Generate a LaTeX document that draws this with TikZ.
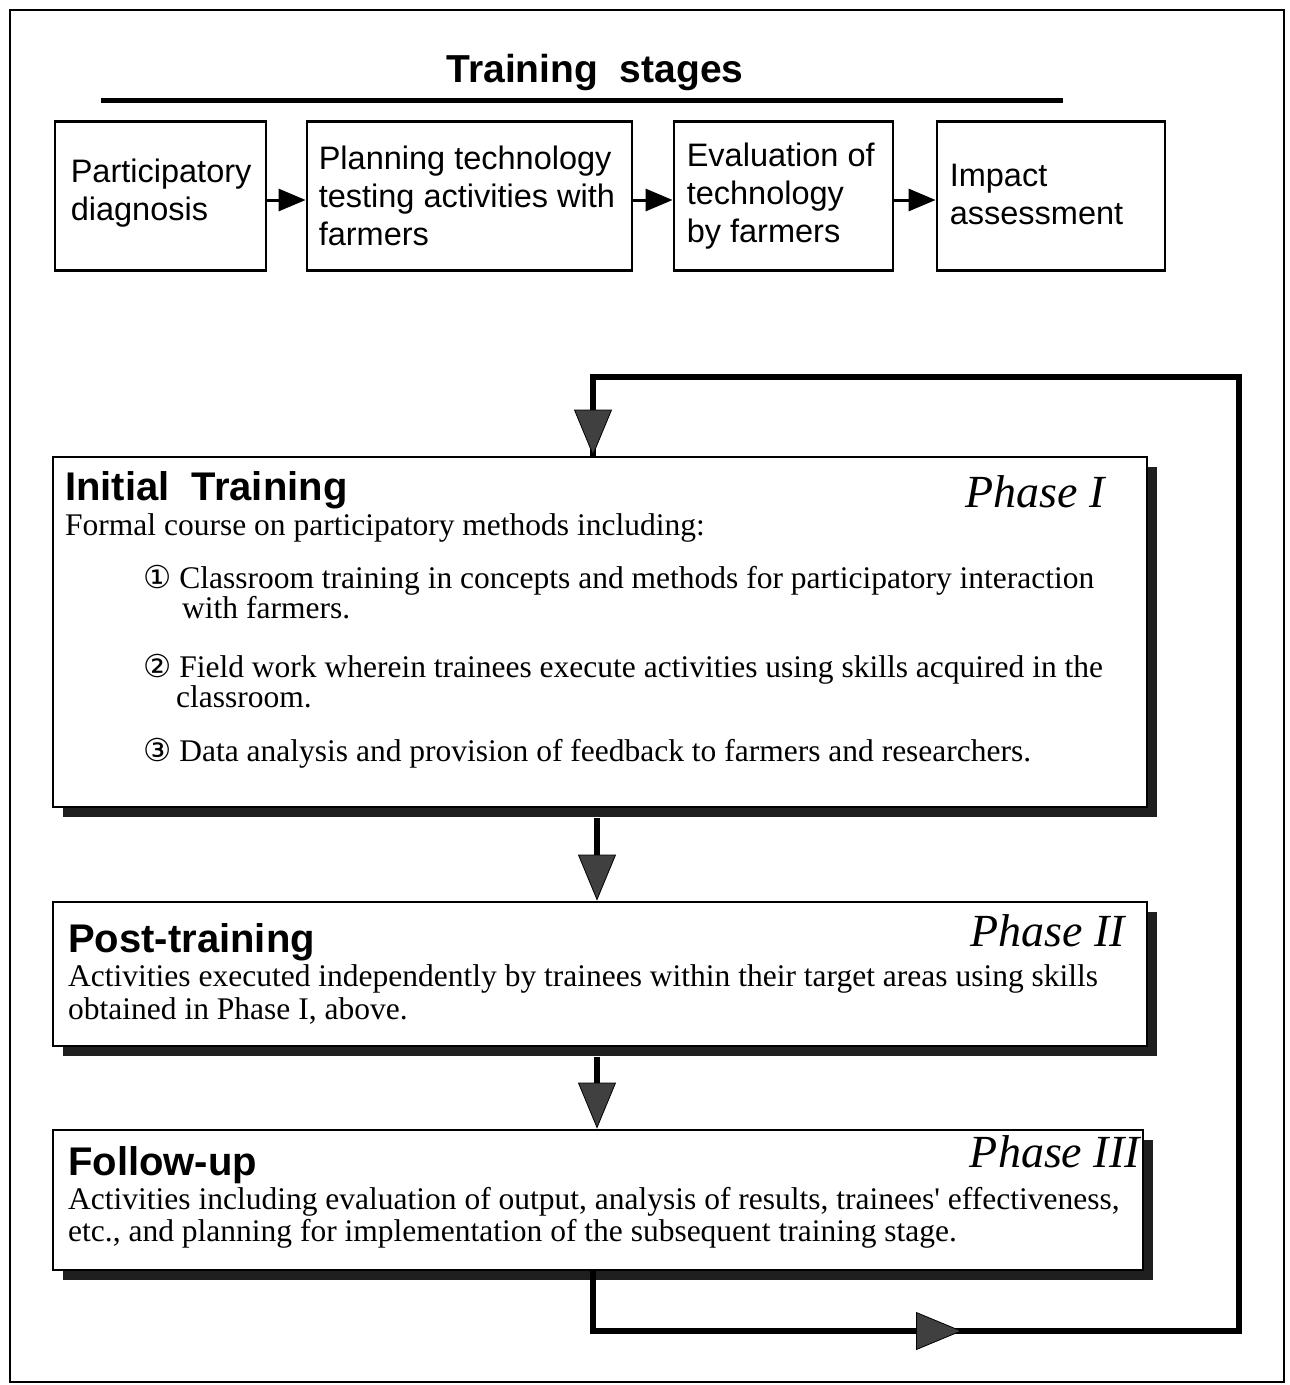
\documentclass[tikz,border=0pt]{standalone}
\usepackage{fontspec}
\setmainfont{Liberation Serif}
\setsansfont{Liberation Sans}
\newfontfamily\circfont{DejaVu Sans}
\usetikzlibrary{arrows.meta,shadows,calc}
\begin{document}
\begin{tikzpicture}[x=1pt,y=-1pt,
  stagebox/.style={draw, line width=2.8pt, minimum height=149pt, inner sep=0pt},
  stagetext/.style={anchor=west, align=left, inner sep=0pt, font=\sffamily\fontsize{32.5}{38}\selectfont},
  sarrow/.style={line width=3pt, -{Triangle[length=27pt,width=22pt]}},
  phasebox/.style={draw, fill=white, line width=2.8pt, inner sep=0pt,
    drop shadow={shadow xshift=10pt, shadow yshift=-10pt, fill=black!88, opacity=1}},
  headtext/.style={anchor=base west, inner sep=0pt, font=\sffamily\bfseries\fontsize{40}{42}\selectfont},
  phasetext/.style={anchor=base east, inner sep=0pt, font=\itshape\fontsize{46}{48}\selectfont},
  bodytext/.style={anchor=base west, inner sep=0pt, font=\fontsize{31.5}{33}\selectfont},
  itemtext/.style={anchor=base west, inner sep=0pt, align=left, font=\fontsize{31.5}{28}\selectfont},
  bigtip/.style={-{Triangle[length=46pt,width=38pt,line width=0.8pt,fill=black!75]}},
  varrow/.style={line width=6pt, bigtip},
  loopline/.style={line width=6pt, line join=miter},
]
\useasboundingbox (0,0) rectangle (1290,1385);
% outer frame
\draw[line width=2.5pt] (10,10) rectangle (1284,1382);

% title
\node[inner sep=0pt, anchor=base, font=\sffamily\bfseries\fontsize{39}{40}\selectfont] (title) at (595,82) {Training\ \ stages};
\coordinate (ulL) at (101,100);
\coordinate (ulR) at (1063,100);
\draw[line width=5pt] (ulL) -- (ulR);

% stage boxes
\node[stagebox, minimum width=211pt] (b1) at (160.5,196) {};
\node[stagebox, minimum width=325pt] (b2) at (469.5,196) {};
\node[stagebox, minimum width=219pt] (b3) at (783.5,196) {};
\node[stagebox, minimum width=228pt] (b4) at (1051,196) {};
\node[stagetext] (b1t) at ([xshift=17pt,yshift=3pt]b1.west) {Participatory\\diagnosis};
\node[stagetext] (b2t) at ([xshift=13pt]b2.west) {Planning technology\\testing activities with\\farmers};
\node[stagetext] (b3t) at ([xshift=14pt]b3.west) {Evaluation of\\technology\\by farmers};
\node[stagetext] (b4t) at ([xshift=14pt,yshift=2pt]b4.west) {Impact\\assessment};
\draw[sarrow] ([yshift=-4pt]b1.east) -- ([yshift=-4pt]b1.east -| b2.west);
\draw[sarrow] ([yshift=-4pt]b2.east) -- ([yshift=-4pt]b2.east -| b3.west);
\draw[sarrow] ([yshift=-4pt]b3.east) -- ([yshift=-4pt]b3.east -| b4.west);

% phase boxes
\node[phasebox, minimum width=1094pt, minimum height=350pt] (it) at (600,632) {};
\node[phasebox, minimum width=1094pt, minimum height=144pt] (pt) at (600,974) {};
\node[phasebox, minimum width=1090pt, minimum height=140pt] (fu) at (598,1200) {};

% Phase I text
\node[headtext] (ith) at (65,500) {Initial\ \ Training};
\node[phasetext] (itp) at (1105,507) {Phase I};
\node[bodytext] (it0) at (65,535) {Formal course on participatory methods including:};
\node[itemtext] (it1) at (143,618) {{\circfont ①} Classroom training in concepts and methods for participatory interaction\\\hspace*{39pt}with farmers.};
\node[itemtext] (it2) at (143,707) {{\circfont ②} Field work wherein trainees execute activities using skills acquired in the\\\hspace*{33pt}classroom.};
\node[bodytext] (it3) at (143,761) {{\circfont ③} Data analysis and provision of feedback to farmers and researchers.};

% Phase II text
\node[headtext] (pth) at (68,952) {Post-training};
\node[phasetext] (ptp) at (1125,946) {Phase II};
\node[bodytext] (pt1) at (68,986) {Activities executed independently by trainees within their target areas using skills};
\node[bodytext] (pt2) at (68,1019) {obtained in Phase I, above.};

% Phase III text
\node[headtext] (fuh) at (68,1175) {Follow-up};
\node[phasetext] (fup) at (1140,1167) {Phase III};
\node[bodytext] (fu1) at (68,1209) {Activities including evaluation of output, analysis of results, trainees\textquotesingle\ effectiveness,};
\node[bodytext] (fu2) at (68,1241) {etc., and planning for implementation of the subsequent training stage.};

% vertical arrows
\draw[varrow] ([xshift=-3pt,yshift=-10pt]it.south) -- ([xshift=-3pt]pt.north);
\draw[varrow] ([xshift=-3pt,yshift=-10pt]pt.south) -- ([xshift=-1pt]fu.north);

% feedback loop
\coordinate (ltl) at (593,377);
\coordinate (ltr) at (1239,377);
\coordinate (lbr) at (1239,1331);
\coordinate (lbl) at (593,1331);
\coordinate (lmid) at (962,1331);
\draw[loopline] (fu.south -| lbl) -- (lbl) -- (lbr) -- (ltr) -- (ltl) -- (ltl |- it.north);
\draw[line width=6pt, bigtip] (ltl) -- (ltl |- it.north);
\draw[line width=6pt, bigtip] (lbl) -- (lmid);
\end{tikzpicture}
\end{document}
